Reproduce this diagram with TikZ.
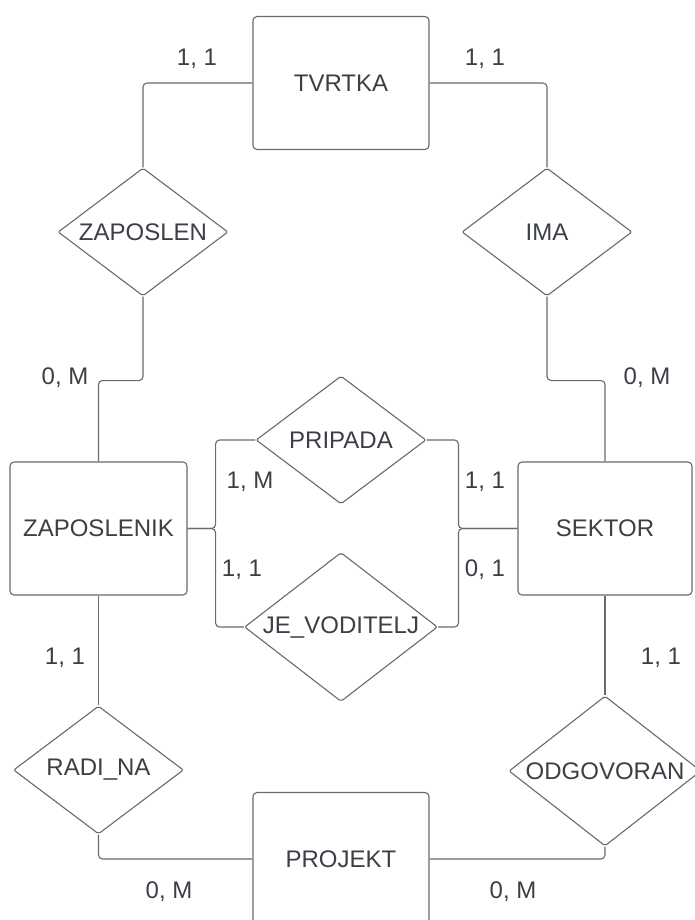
\documentclass[tikz,border=0pt]{standalone}
\usepackage{fontspec}
\setmainfont{Liberation Sans}
\usetikzlibrary{shapes.geometric}
\definecolor{erLine}{HTML}{666A71}
\definecolor{erText}{HTML}{3B3F46}
\tikzset{
    erFont/.style={text=erText, font=\fontsize{24}{28}\selectfont},
    entity/.style={erFont, draw=erLine, line width=1.1pt, rounded corners=4pt, minimum width=176pt, minimum height=133pt, inner sep=0pt},
    relation/.style={erFont, draw=erLine, line width=1.1pt, diamond, shape aspect=1.3, rounded corners=2pt, minimum width=170pt, minimum height=128pt, inner sep=0pt},
    card/.style={erFont, inner sep=0pt},
    link/.style={erLine, line width=1.1pt, rounded corners=4pt}
}
\begin{document}
\begin{tikzpicture}[x=1pt, y=-1pt]
    \useasboundingbox[fill=white] (0, 0) rectangle (694, 920);
    \node[entity] (tvrtka) at (341, 83) {TVRTKA};
    \node[entity, minimum width=177pt] (zaposlenik) at (98.5, 528.5) {ZAPOSLENIK};
    \node[entity, minimum width=174pt] (sektor) at (605, 528.5) {SEKTOR};
    \node[entity] (projekt) at (341, 859) {PROJEKT};

    \node[relation] (zaposlen) at (143, 232) {ZAPOSLEN};
    \node[relation] (ima) at (547, 232) {IMA};
    \node[relation] (pripada) at (341, 440) {PRIPADA};
    \node[relation, minimum width=193pt, minimum height=149pt] (voditelj) at (341, 627) {JE\_VODITELJ};
    \node[relation] (radiNa) at (98.5, 770) {RADI\_NA};
    \node[relation, minimum width=192pt, minimum height=150pt] (odgovoran) at (605, 771) {ODGOVORAN};

    \draw[link] (tvrtka.west) -| (zaposlen.north);
    \draw[link] (tvrtka.east) -| (ima.north);
    \draw[link] (zaposlen.south) -- ++(0, 84) -| (zaposlenik.north);
    \draw[link] (ima.south) -- ++(0, 84) -| (sektor.north);
    \draw[link] (zaposlenik.east) -- ++(28, 0) |- (pripada.west);
    \draw[link] (zaposlenik.east) -- ++(28, 0) |- (voditelj.west);
    \draw[link] (sektor.west) -- ++(-59, 0) |- (pripada.east);
    \draw[link] (sektor.west) -- ++(-59, 0) |- (voditelj.east);
    \draw[link] (zaposlenik.south) -- (radiNa.north);
    \draw[link] (sektor.south) -- (odgovoran.north);
    \draw[link] (radiNa.south) |- (projekt.west);
    \draw[link] (odgovoran.south) |- (projekt.east);

    \node[card] (cTvrtkaL) at (197, 59) {1, 1};
    \node[card] (cTvrtkaR) at (485, 59) {1, 1};
    \node[card] (cZaposlenikT) at (65, 378) {0, M};
    \node[card] (cSektorT) at (647, 378) {0, M};
    \node[card] (cPripadaL) at (250, 482) {1, M};
    \node[card] (cPripadaR) at (485, 482) {1, 1};
    \node[card] (cVoditeljL) at (242, 570) {1, 1};
    \node[card] (cVoditeljR) at (485, 570) {0, 1};
    \node[card] (cZaposlenikB) at (65, 658) {1, 1};
    \node[card] (cSektorB) at (661, 658) {1, 1};
    \node[card] (cProjektL) at (169, 892) {0, M};
    \node[card] (cProjektR) at (513, 892) {0, M};
\end{tikzpicture}
\end{document}
